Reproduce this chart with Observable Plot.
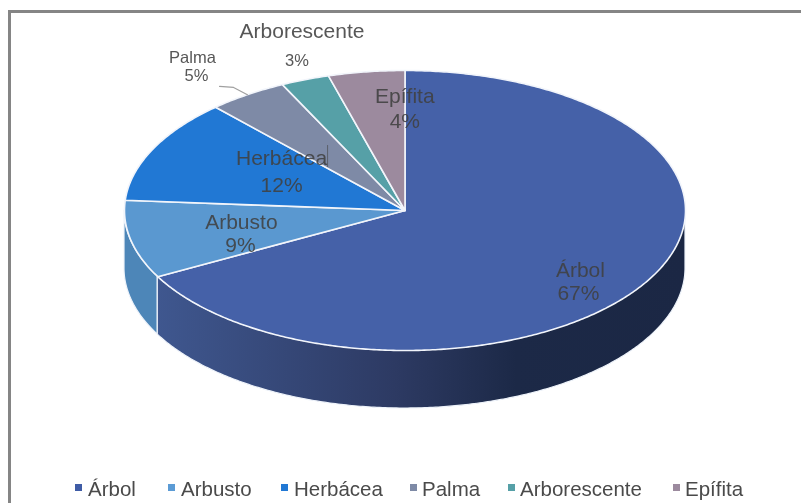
<!DOCTYPE html>
<html lang="es">
<head>
<meta charset="utf-8">
<script src="https://cdn.jsdelivr.net/npm/d3@7"></script>
<script src="https://cdn.jsdelivr.net/npm/@observablehq/plot@0.6"></script>
<style>
  html, body { margin: 0; padding: 0; background: #fff; }
  #page { position: relative; width: 801px; height: 503px; overflow: hidden; font-family: "Liberation Sans", Arial, sans-serif; filter: blur(0.35px); }
  #page svg { display: block; }
  #frameTop { position: absolute; left: 8px; right: 0; top: 10px; height: 2.5px; background: #858585; }
  #frameLeft { position: absolute; left: 8px; top: 10px; bottom: 0; width: 2.5px; background: #858585; }
  #legend { position: absolute; left: 0; top: 463px; width: 801px; height: 40px; color: #4a4a4a; font-size: 20.5px; }
  #legend span { position: absolute; top: 13.5px; line-height: 24px; white-space: nowrap; }
  #legend i { position: absolute; top: 21px; width: 7px; height: 7px; }
</style>
</head>
<body>
<div id="page"></div>
<script>
// Data
const categories = ["Árbol", "Arbusto", "Herbácea", "Palma", "Arborescente", "Epífita"];
const shares = [67.2, 9.0, 12.05, 4.6, 2.8, 4.4];
const percentLabels = ["67%", "9%", "12%", "5%", "3%", "4%"];

// Styles
const topColors = ["#4561a8", "#5a98d0", "#2178d4", "#7e8aa6", "#56a0a7", "#9c8a9e"];
const legendColors = ["#3f5ca6", "#5b9bd5", "#2178d4", "#7e8aa6", "#56a0a7", "#9c8a9e"];
const legendSwatchX = [75, 168, 281, 410, 508, 673];
const legendTextX = [88, 181, 294, 422, 520, 685];

// Label layout: offsets (px) from each slice's mid-angle anchor
const nameOffsets = [[31, 17], [1, -5.5], [28, -16], [-118, -83.5], [-43, -100.5], [23, -31]];
const pctOffsets = [[29, 40], [0, 17.5], [28, 11], [-114, -65.5], [-48, -71.5], [23, -6]];
const nameSizes = [21, 21, 21, 16.5, 21, 21];
const pctSizes = [21, 21, 21, 16.5, 16.5, 21];
const anchorRadius = 0.6;
const depth = 58 / 140;

const arcs = d3.pie().sort(null).value(d => d)(shares);
const rim = a => ({x: Math.sin(a), y: -Math.cos(a)});
const arcAngles = (a0, a1) => {
  const n = Math.max(2, Math.ceil(Math.abs(a1 - a0) / 0.01));
  return d3.range(n + 1).map(i => a0 + (a1 - a0) * i / n);
};

const sliceRows = arcs.flatMap((arc, i) => [
  {name: categories[i], x: 0, y: 0},
  ...arcAngles(arc.startAngle, arc.endAngle).map(a => ({name: categories[i], ...rim(a)})),
  {name: categories[i], x: 0, y: 0}
]);

const wallRows = (a0, a1) => arcAngles(a0, a1).map(a => {
  const p = rim(a);
  return {x: p.x, top: p.y, bottom: p.y + depth};
});
const wallArbol = wallRows(Math.PI / 2, arcs[0].endAngle);
const wallArbusto = wallRows(arcs[0].endAngle, 3 * Math.PI / 2);

const labels = arcs.map((arc, i) => {
  const p = rim((arc.startAngle + arc.endAngle) / 2);
  return {x: p.x * anchorRadius, y: p.y * anchorRadius, name: categories[i], pct: percentLabels[i],
          rimX: p.x, rimY: p.y};
});

const palmaLeader = [
  {x: labels[3].rimX, y: labels[3].rimY},
  {x: -0.611, y: -0.879},
  {x: -0.661, y: -0.886}
];

const gradientDefs = () => {
  const defs = d3.create("svg:defs");
  const g = defs.append("linearGradient").attr("id", "wallGrad");
  [[0, "#3f578f"], [0.45, "#2d3a63"], [0.68, "#1c2947"], [1, "#1b2744"]].forEach(([o, c]) =>
    g.append("stop").attr("offset", o).attr("stop-color", c));
  return defs.node();
};

const textMarks = labels.flatMap((d, i) => [
  Plot.text([d], {x: "x", y: "y", text: "name", dx: nameOffsets[i][0], dy: nameOffsets[i][1],
    fontSize: nameSizes[i], fill: "#404040", fillOpacity: 0.88}),
  Plot.text([d], {x: "x", y: "y", text: "pct", dx: pctOffsets[i][0], dy: pctOffsets[i][1],
    fontSize: pctSizes[i], fill: "#404040", fillOpacity: 0.88})
]);

const chart = Plot.plot({
  width: 801,
  height: 463,
  margin: 0,
  style: {fontFamily: '"Liberation Sans", Arial, sans-serif', background: "transparent"},
  x: {domain: [-1, 1], range: [124, 685], axis: null},
  y: {domain: [-1, 1], range: [70, 350], axis: null},
  color: {domain: categories, range: topColors},
  marks: [
    gradientDefs,
    Plot.area(wallArbusto, {x1: "x", y1: "top", y2: "bottom", fill: "#4d86b8", stroke: "#eef3fa", strokeWidth: 1.2}),
    Plot.area(wallArbol, {x1: "x", y1: "top", y2: "bottom", fill: "url(#wallGrad)", stroke: "#eef3fa", strokeWidth: 1.2}),
    Plot.line(sliceRows, {x: "x", y: "y", z: "name", fill: "name", stroke: "#f2f5fb", strokeWidth: 1.6, strokeLinejoin: "round", curve: "linear"}),
    Plot.line(palmaLeader, {x: "x", y: "y", stroke: "#a0a0a0", strokeWidth: 1.2, curve: "linear"}),
    Plot.ruleX([-0.276], {y1: -0.464, y2: -0.307, stroke: "#5a5f6a", strokeWidth: 1}),
    ...textMarks
  ]
});

const page = document.getElementById("page");
page.append(chart);

const frameTop = document.createElement("div"); frameTop.id = "frameTop";
const frameLeft = document.createElement("div"); frameLeft.id = "frameLeft";
page.append(frameTop, frameLeft);

const legend = document.createElement("div");
legend.id = "legend";
categories.forEach((c, i) => {
  const sw = document.createElement("i");
  sw.style.left = legendSwatchX[i] + "px";
  sw.style.background = legendColors[i];
  const tx = document.createElement("span");
  tx.style.left = legendTextX[i] + "px";
  tx.textContent = c;
  legend.append(sw, tx);
});
page.append(legend);
</script>
</body>
</html>
